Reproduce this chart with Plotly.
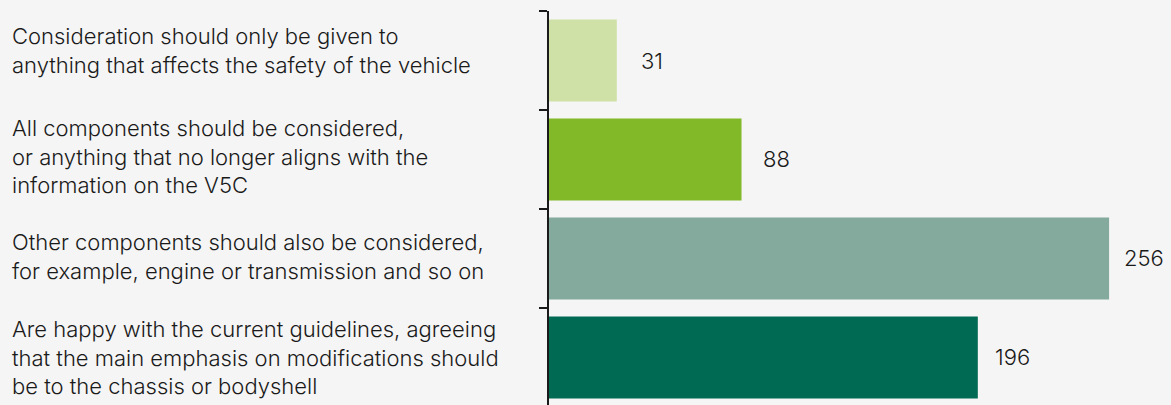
import plotly.graph_objects as go

# Survey responses: how modified vehicles should be assessed
categories = [
    "Consideration should only be given to<br>anything that affects the safety of the vehicle",
    "All components should be considered,<br>or anything that no longer aligns with the<br>information on the V5C",
    "Other components should also be considered,<br>for example, engine or transmission and so on",
    "Are happy with the current guidelines, agreeing<br>that the main emphasis on modifications should<br>be to the chassis or bodyshell",
]
responses = [31, 88, 256, 196]
bar_colors = ["#d0e1a8", "#82b929", "#84aa9e", "#006a52"]

FONT = "Inter, 'Liberation Sans', Arial, sans-serif"
TEXT_COLOR = "#1a1a1a"
BG = "#f5f5f5"

positions = list(range(len(categories)))
# tick marks sit on the boundaries between the category bands
boundaries = [p - 0.5 for p in positions] + [positions[-1] + 0.5]

fig = go.Figure(
    go.Bar(
        x=responses,
        y=positions,
        orientation="h",
        width=0.83,
        marker=dict(color=bar_colors, line=dict(width=0)),
        hoverinfo="skip",
    )
)

# value labels just past the end of each bar
for pos, val in zip(positions, responses):
    fig.add_annotation(
        x=val, y=pos, xref="x", yref="y",
        text=str(val), showarrow=False,
        xanchor="center", yanchor="middle", xshift=35,
        font=dict(family=FONT, size=22, color=TEXT_COLOR, weight=300),
    )

# left-aligned category descriptions
label_nudge = [10, 3, 2, 0]
for pos, label, dy in zip(positions, categories, label_nudge):
    fig.add_annotation(
        x=0, y=pos, xref="paper", yref="y",
        text=label, showarrow=False,
        xanchor="left", yanchor="middle", align="left",
        xshift=-539, yshift=dy,
        font=dict(family=FONT, size=22, color=TEXT_COLOR, weight=300),
    )

fig.update_layout(
    width=1171,
    height=405,
    margin=dict(l=549, r=0, t=11, b=0),
    paper_bgcolor=BG,
    plot_bgcolor=BG,
    showlegend=False,
    xaxis=dict(
        range=[0, 284.3],
        visible=False,
        showgrid=False,
        zeroline=False,
    ),
    yaxis=dict(
        range=[3.48, -0.5],
        tickmode="array",
        tickvals=boundaries,
        showticklabels=False,
        showgrid=False,
        zeroline=False,
        showline=True,
        linecolor="#1a1a1a",
        linewidth=1.5,
        ticks="outside",
        ticklen=8,
        tickwidth=1.5,
        tickcolor="#1a1a1a",
    ),
)

fig.write_html("out.html")
